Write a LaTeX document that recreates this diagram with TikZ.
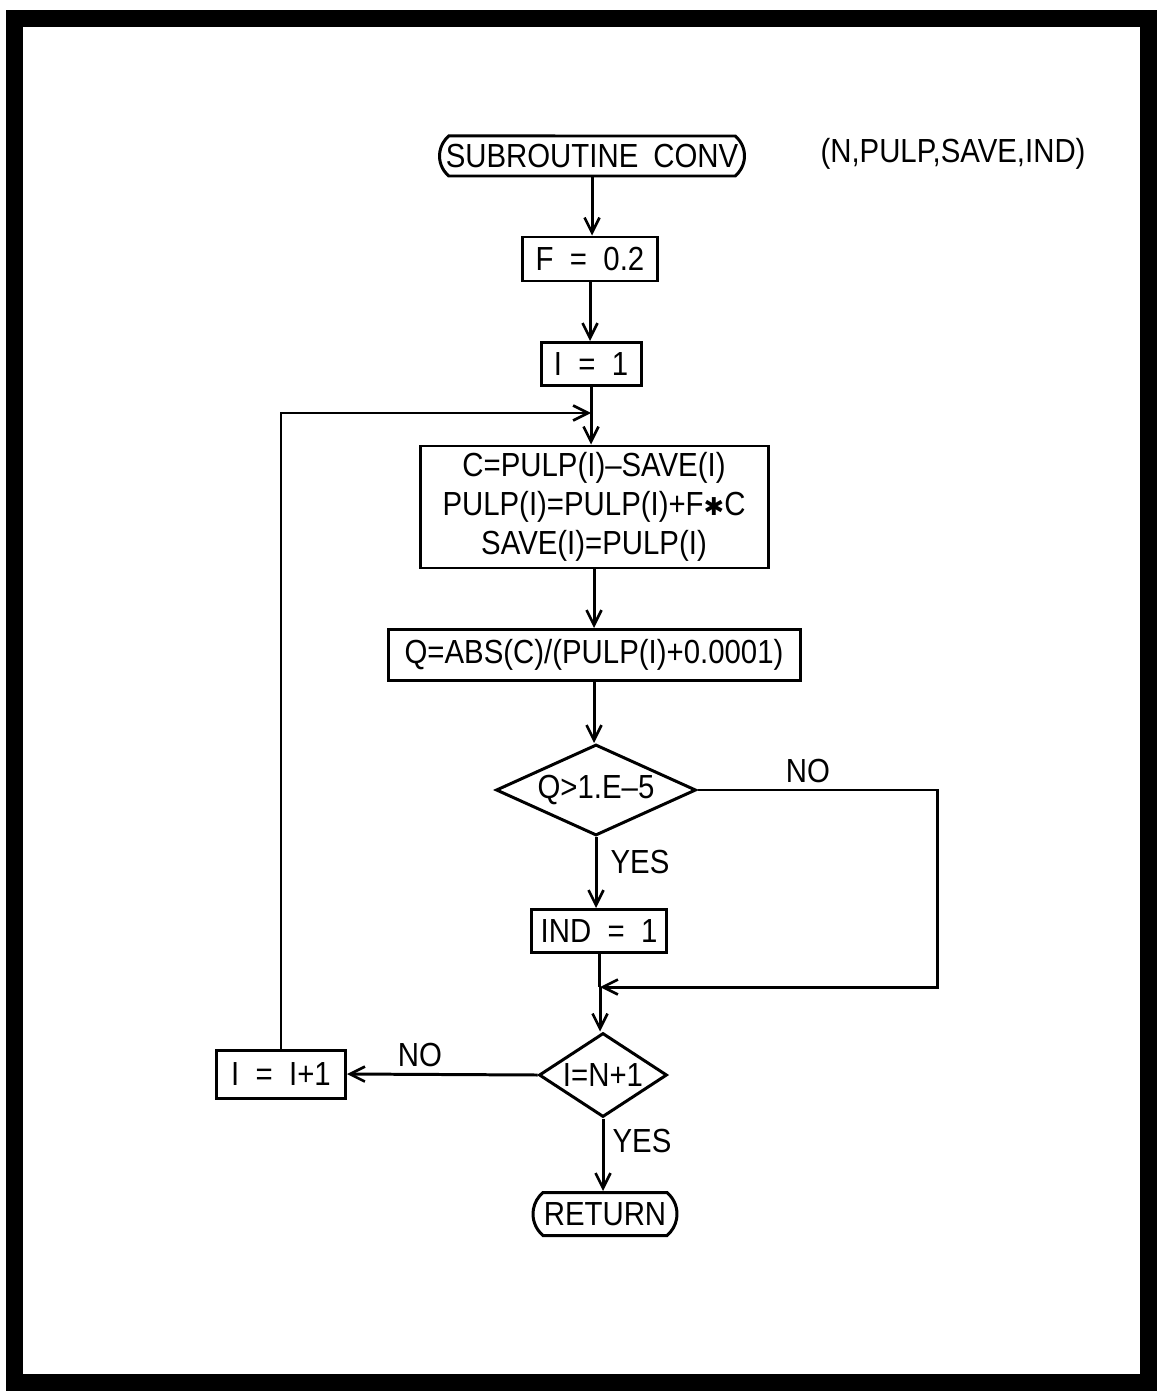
\documentclass[tikz,border=0pt]{standalone}
\usepackage{fontspec}
\setmainfont[FakeStretch=0.88]{Liberation Sans}
\newfontfamily\symfnt{DejaVu Sans}
\usetikzlibrary{shapes.geometric,shapes.misc,arrows.meta}
\begin{document}
\begin{tikzpicture}[x=0.02cm,y=-0.02cm,
  line width=1.7pt,
  font=\fontsize{19}{22}\selectfont,
  flow/.style={-{Straight Barb[length=0.3cm,width=0.3cm,line width=1.5pt]}},
  procbox/.style={draw, rectangle, inner sep=0pt},
  termbox/.style={draw, rounded rectangle, rounded rectangle arc length=100, inner sep=0pt},
  decbox/.style={draw, diamond, inner sep=0pt},
  lbl/.style={inner sep=0pt}]
\useasboundingbox (0,0) rectangle (1157,1391);
\fill[white] (0,0) rectangle (1157,1391);
\draw[line width=0.34cm] (14.5,18.5) rectangle (1148.5,1382.5);

\node[termbox, minimum width=305*0.02cm, minimum height=40*0.02cm] (start) at (592,156) {SUBROUTINE\hspace{0.45em}CONV};
\node[lbl] (args) at (953,154) {(N,PULP,SAVE,IND)};
\node[procbox, minimum width=135*0.02cm, minimum height=44*0.02cm] (f) at (590,259) {F~~=~~0.2};
\node[procbox, minimum width=100*0.02cm, minimum height=43*0.02cm] (i1) at (591,364) {I~~=~~1};
\coordinate (j1) at (591,413);
\node[procbox, minimum width=348*0.02cm, minimum height=122*0.02cm, align=center] (calc) at (594,507) {C=PULP(I)--SAVE(I)\\PULP(I)=PULP(I)+F{\symfnt\fontsize{14}{14}\selectfont ✱}C\\SAVE(I)=PULP(I)};
\node[procbox, minimum width=412*0.02cm, minimum height=51*0.02cm] (q) at (594,655) {Q=ABS(C)/(PULP(I)+0.0001)};
\node[decbox, minimum width=200*0.02cm, minimum height=91*0.02cm] (d1) at (596,790) {};
\node[lbl] (d1t) at (d1) {Q>1.E--5};
\node[lbl] (no1) at (808,771) {NO};
\node[lbl] (yes1) at (640,862) {YES};
\node[procbox, minimum width=135*0.02cm, minimum height=43*0.02cm] (ind) at (599,931) {IND~~=~~1};
\coordinate (m) at (600,987);
\coordinate (r1) at (937,987);
\node[decbox, minimum width=128*0.02cm, minimum height=84*0.02cm] (d2) at (603,1075) {};
\node[lbl] (d2t) at (d2) {I=N+1};
\node[procbox, minimum width=129*0.02cm, minimum height=48*0.02cm] (inc) at (281,1074) {I~~=~~I+1};
\node[lbl] (no2) at (420,1055) {NO};
\node[lbl] (yes2) at (642,1141) {YES};
\node[termbox, minimum width=144*0.02cm, minimum height=43*0.02cm] (ret) at (605,1214) {RETURN};

\draw[flow] (start.south) -- (start.south |- f.north);
\draw[flow] (f.south) -- (f.south |- i1.north);
\draw[flow] (i1.south) -- (i1.south |- calc.north);
\draw[flow] (inc.north) -- (inc.north |- j1) -- (j1);
\draw[flow] (calc.south) -- (calc.south |- q.north);
\draw[flow] (q.south) -- (q.south |- d1.north);
\draw[flow] (d1.south) -- (d1.south |- ind.north);
\draw[flow] (d1.east) -| (r1) -- (m);
\draw (ind.south) -- (ind.south |- m);
\draw[flow] (m) -- (m |- d2.north);
\draw[flow] (d2.west) -- (inc.east);
\draw[flow] (d2.south) -- (d2.south |- ret.north);
\end{tikzpicture}
\end{document}
